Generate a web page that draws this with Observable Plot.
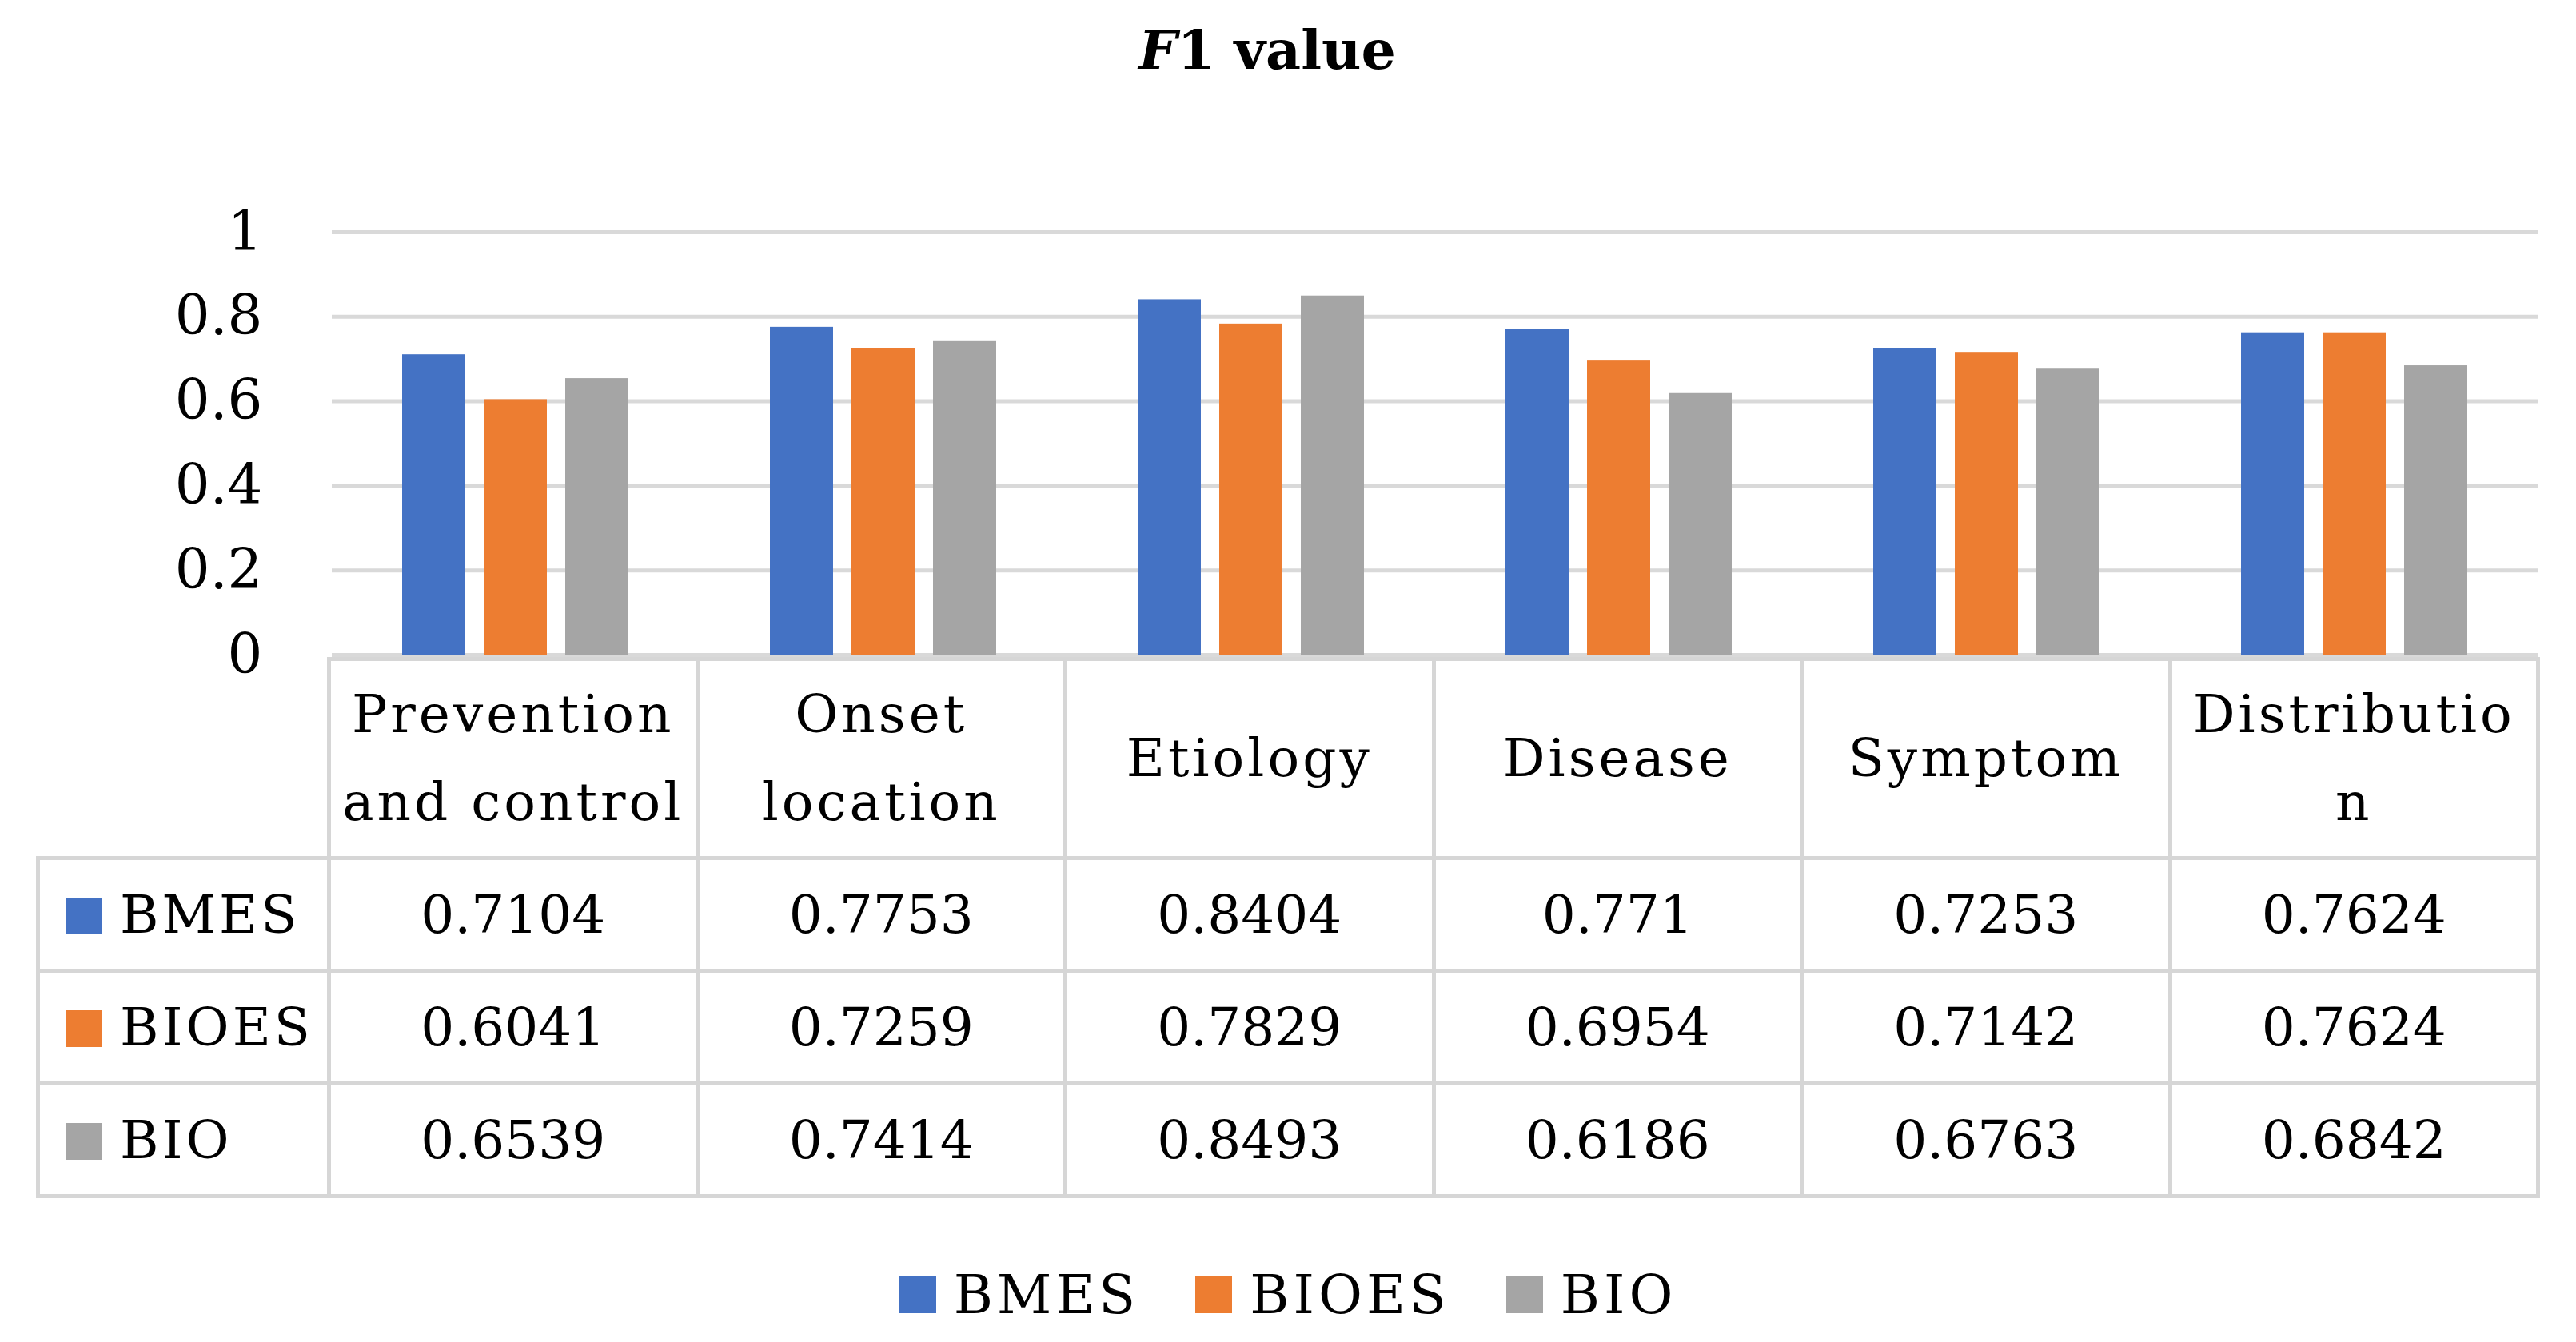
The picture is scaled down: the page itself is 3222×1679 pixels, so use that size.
<!DOCTYPE html>
<html>
<head>
<meta charset="utf-8">
<script src="https://cdn.jsdelivr.net/npm/d3@7"></script>
<script src="https://cdn.jsdelivr.net/npm/@observablehq/plot@0.6"></script>
<style>
  html, body { margin: 0; padding: 0; background: #fff; }
  #root { position: relative; width: 3222px; height: 1679px; font-family: "DejaVu Serif", serif; color: #000; overflow: hidden; }
  #title { position: absolute; left: 0; top: 28px; width: 3170px; text-align: center; font-size: 68px; line-height: 68px; font-weight: bold; }
  #chart { position: absolute; left: 0; top: 160px; }
  #chart svg { overflow: visible; }
  #tbl { position: absolute; left: 45px; top: 822px; border-collapse: collapse; table-layout: fixed; font-size: 66px; }
  #tbl td { border: 5px solid #d6d6d6; text-align: center; vertical-align: middle; padding: 0; }
  #tbl tr.head td { height: 244px; line-height: 110px; white-space: pre-line; letter-spacing: 4px; }
  #tbl tr.data td { height: 136px; }
  #tbl td.corner { border-top: hidden; border-left: hidden; }
  #tbl td.lab { text-align: left; padding-left: 32px; letter-spacing: 4px; }
  .sw { display: inline-block; width: 46px; height: 46px; margin-right: 22px; vertical-align: -2px; }
  #legend { position: absolute; left: 0; top: 1580px; width: 3222px; height: 80px; display: flex; justify-content: center; align-items: center; gap: 70px; font-size: 67px; letter-spacing: 5px; }
  #legend .item { display: flex; align-items: center; }
</style>
</head>
<body>
<div id="root">
  <div id="title"><i>F</i>1 value</div>
  <div id="chart"></div>
  <table id="tbl"></table>
  <div id="legend"></div>
</div>
<script>
// ---- data ----
const categories = ["Prevention and control", "Onset location", "Etiology", "Disease", "Symptom", "Distribution"];
const headerLabels = ["Prevention\nand control", "Onset\nlocation", "Etiology", "Disease", "Symptom", "Distributio\nn"];
const series = ["BMES", "BIOES", "BIO"];
const colors = ["#4472C4", "#ED7D31", "#A5A5A5"];
const bmes  = [0.7104, 0.7753, 0.8404, 0.771, 0.7253, 0.7624];
const bioes = [0.6041, 0.7259, 0.7829, 0.6954, 0.7142, 0.7624];
const bio   = [0.6539, 0.7414, 0.8493, 0.6186, 0.6763, 0.6842];
const yTicks = [0, 0.2, 0.4, 0.6, 0.8, 1];
const yTickLabels = ["0", "0.2", "0.4", "0.6", "0.8", "1"];

// ---- long-format rows for the bars ----
const valuesBySeries = [bmes, bioes, bio];
const rows = [];
series.forEach((s, si) => categories.forEach((c, ci) => rows.push({series: s, category: c, value: valuesBySeries[si][ci]})));

// ---- chart ----
const chart = Plot.plot({
  width: 3222,
  height: 664,
  marginTop: 130,
  marginBottom: 5,
  marginLeft: 412,
  marginRight: 45,
  style: {fontFamily: "DejaVu Serif", fontSize: "69px", color: "#000", background: "transparent", overflow: "visible"},
  fx: {domain: categories, padding: 0, axis: null, label: null},
  x: {domain: series, axis: null, paddingInner: 0.223, paddingOuter: 0.854},
  y: {domain: [0, 1], ticks: yTicks, tickFormat: d => yTickLabels[yTicks.findIndex(t => Math.abs(t - d) < 1e-9)], tickSize: 0, tickPadding: 87, label: null},
  color: {domain: series, range: colors},
  marks: [
    Plot.ruleY(yTicks, {stroke: "#d9d9d9", strokeWidth: 5}),
    Plot.barY(rows, {fx: "category", x: "series", y: "value", fill: "series"})
  ]
});
document.getElementById("chart").appendChild(chart);

// ---- data table ----
const tbl = document.getElementById("tbl");
const colg = document.createElement("colgroup");
const c0 = document.createElement("col"); c0.style.width = "364px"; colg.appendChild(c0);
categories.forEach(() => { const c = document.createElement("col"); c.style.width = "460.5px"; colg.appendChild(c); });
tbl.appendChild(colg);
const head = document.createElement("tr"); head.className = "head";
const corner = document.createElement("td"); corner.className = "corner"; head.appendChild(corner);
headerLabels.forEach(h => { const td = document.createElement("td"); td.textContent = h; head.appendChild(td); });
tbl.appendChild(head);
series.forEach((s, si) => {
  const tr = document.createElement("tr"); tr.className = "data";
  const lab = document.createElement("td"); lab.className = "lab";
  const sw = document.createElement("span"); sw.className = "sw"; sw.style.background = colors[si];
  lab.appendChild(sw); lab.appendChild(document.createTextNode(s));
  tr.appendChild(lab);
  valuesBySeries[si].forEach(v => { const td = document.createElement("td"); td.textContent = String(v); tr.appendChild(td); });
  tbl.appendChild(tr);
});

// ---- legend ----
const legend = document.getElementById("legend");
series.forEach((s, si) => {
  const it = document.createElement("div"); it.className = "item";
  const sw = document.createElement("span"); sw.className = "sw"; sw.style.background = colors[si];
  it.appendChild(sw); it.appendChild(document.createTextNode(s));
  legend.appendChild(it);
});
</script>
</body>
</html>
